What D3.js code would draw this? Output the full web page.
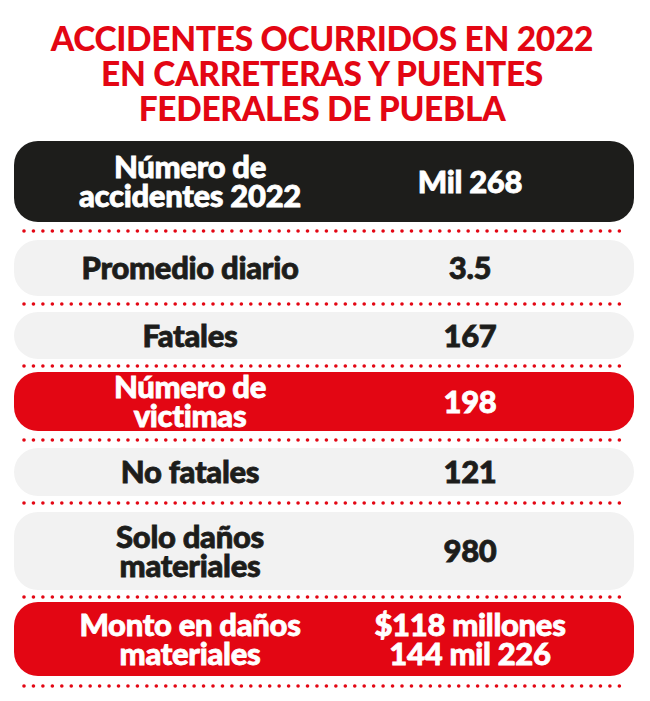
<!DOCTYPE html>
<html><head><meta charset="utf-8">
<script src="https://cdn.jsdelivr.net/npm/d3@7"></script>
<style>body{margin:0;background:#fff}</style>
</head><body>
<script>
var titleLines = ["ACCIDENTES OCURRIDOS EN 2022", "EN CARRETERAS Y PUENTES", "FEDERALES DE PUEBLA"];
var labels = [["Número de", "accidentes 2022"], ["Promedio diario"], ["Fatales"], ["Número de", "victimas"], ["No fatales"], ["Solo daños", "materiales"], ["Monto en daños", "materiales"]];
var values = [["Mil 268"], ["3.5"], ["167"], ["198"], ["121"], ["980"], ["$118 millones", "144 mil 226"]];
var kinds = ["dark", "light", "light", "red", "light", "light", "red"];
var rowTop = [141, 240, 312, 372, 448, 512, 602];
var rowBottom = [222, 296, 359, 431, 496, 590, 676];
var dotLines = [231, 304, 366, 440, 503, 597, 686];

var fill = {dark: "#1d1d1b", light: "#f2f2f2", red: "#e30613"};
var textFill = {dark: "#fff", light: "#1d1d1b", red: "#fff"};
var font = "Lato, 'DejaVu Sans', sans-serif";

var svg = d3.select("body").append("svg").attr("width", 650).attr("height", 701);

svg.selectAll("text.title").data(titleLines).enter().append("text")
  .attr("class", "title")
  .attr("x", 322).attr("y", function(d, i) { return 51 + i * 35; })
  .attr("text-anchor", "middle")
  .attr("font-family", font).attr("font-weight", 900).attr("font-size", 33.5)
  .attr("fill", "#e30613").attr("letter-spacing", -0.3)
  .text(function(d) { return d; });

var rows = svg.selectAll("g.row").data(kinds).enter().append("g").attr("class", "row");

rows.append("rect")
  .attr("x", 14).attr("width", 620)
  .attr("y", function(d, i) { return rowTop[i]; })
  .attr("height", function(d, i) { return rowBottom[i] - rowTop[i]; })
  .attr("rx", 24)
  .attr("fill", function(d) { return fill[d]; });

function cellText(col, cx, data) {
  rows.each(function(k, i) {
    var lines = data[i];
    var mid = (rowTop[i] + rowBottom[i]) / 2;
    var lh = 29;
    d3.select(this).selectAll("text." + col).data(lines).enter().append("text")
      .attr("class", col)
      .attr("x", cx)
      .attr("y", function(d, j) { return mid + (j - (lines.length - 1) / 2) * lh + 11; })
      .attr("text-anchor", "middle")
      .attr("font-family", font).attr("font-weight", 900).attr("font-size", 31)
      .attr("letter-spacing", -0.3)
      .attr("fill", textFill[k])
      .attr("stroke", textFill[k]).attr("stroke-width", 0.8)
      .text(function(d) { return d; });
  });
}
cellText("lab", 190, labels);
cellText("val", 470, values);

var dotX = d3.range(24, 620, 9.45);
dotLines.forEach(function(y) {
  svg.append("g").selectAll("circle").data(dotX).enter().append("circle")
    .attr("cx", function(d) { return d; }).attr("cy", y).attr("r", 1.8)
    .attr("fill", "#e30613");
});
</script>
</body></html>
